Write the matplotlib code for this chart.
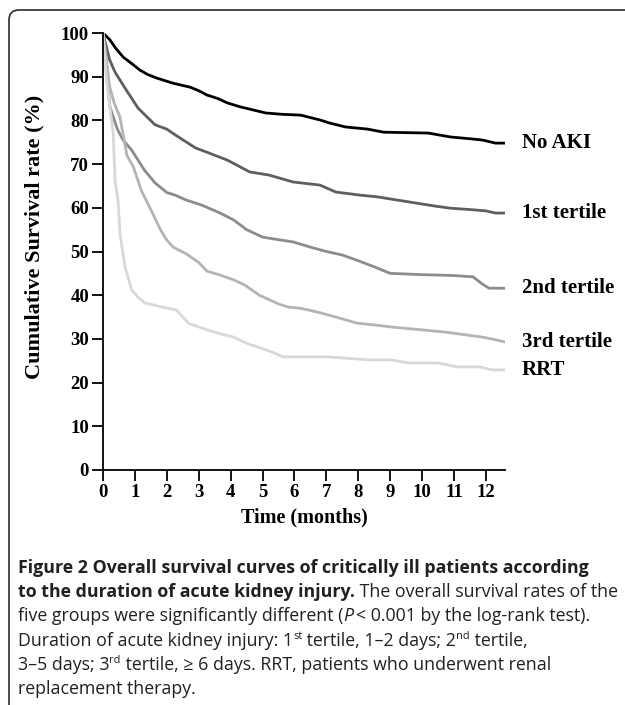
import numpy as np
import matplotlib
matplotlib.use("Agg")
import matplotlib.pyplot as plt
from matplotlib.patches import FancyBboxPatch

# Kaplan-Meier curves (time in months, survival in %)
t_noaki = [0, 0.1, 0.22, 0.4, 0.63, 0.9, 1.16, 1.4, 1.68, 2.2, 2.73, 3.0, 3.26, 3.6, 3.9,
           4.3, 4.7, 5.1, 5.6, 6.2, 6.8, 7.1, 7.6, 8.3, 8.8, 9.5, 10.2, 10.9, 11.5, 11.9,
           12.3, 12.6]
s_noaki = [100, 99.3, 98.4, 96.5, 94.5, 93, 91.5, 90.5, 89.7, 88.5, 87.6, 86.8, 85.8, 85,
           84, 83.1, 82.4, 81.7, 81.4, 81.2, 80.1, 79.4, 78.5, 78, 77.3, 77.2, 77.1, 76.2,
           75.8, 75.5, 74.8, 74.8]

t_ter1 = [0, 0.1, 0.2, 0.38, 0.69, 1.1, 1.63, 2.0, 2.26, 2.9, 3.3, 3.9, 4.6, 5.2, 5.96,
          6.8, 7.3, 8.06, 8.6, 9.2, 9.8, 10.4, 10.9, 11.5, 12.0, 12.3, 12.6]
s_ter1 = [100, 97, 94, 91, 87.4, 82.8, 79, 78, 76.7, 73.7, 72.6, 70.9, 68.2, 67.5, 65.9,
          65.2, 63.6, 62.9, 62.5, 61.8, 61.1, 60.4, 59.9, 59.6, 59.3, 58.8, 58.8]

t_ter2 = [0, 0.08, 0.22, 0.45, 0.63, 0.9, 1.3, 1.63, 2.0, 2.26, 2.6, 3.1, 3.67, 4.1, 4.5,
          5.0, 5.5, 5.96, 6.5, 7.0, 7.5, 7.96, 8.5, 9.0, 10.0, 11.0, 11.6, 11.9, 12.1, 12.6]
s_ter2 = [100, 93, 83, 78, 75.5, 73.2, 68.6, 65.7, 63.5, 62.9, 61.8, 60.6, 58.8, 57.2, 55,
          53.3, 52.7, 52.2, 51, 50, 49.2, 48, 46.5, 45, 44.7, 44.5, 44.2, 42.5, 41.6, 41.6]

t_ter3 = [0, 0.1, 0.2, 0.35, 0.53, 0.75, 0.95, 1.2, 1.47, 1.8, 2.0, 2.2, 2.6, 3.0, 3.26,
          3.67, 4.1, 4.45, 4.9, 5.5, 5.8, 6.2, 6.8, 7.3, 7.96, 8.5, 9.2, 10.1, 10.8, 11.5,
          11.9, 12.3, 12.6]
s_ter3 = [100, 94.5, 88, 84, 80.8, 72, 69.4, 64, 60, 55, 52.6, 51, 49.5, 47.5, 45.5, 44.6,
          43.5, 42.3, 40, 38, 37.3, 37, 36, 35, 33.6, 33.2, 32.6, 32, 31.5, 30.8, 30.4,
          29.8, 29.3]

t_rrt = [0, 0.05, 0.1, 0.2, 0.32, 0.38, 0.47, 0.53, 0.69, 0.9, 1.1, 1.32, 1.85, 2.3, 2.5,
         2.7, 2.9, 3.3, 3.6, 4.1, 4.5, 4.9, 5.3, 5.64, 6.2, 7.0, 7.6, 8.3, 9.0, 9.6, 10.5,
         11.1, 11.8, 12.2, 12.6]
s_rrt = [100, 95, 90, 84, 77, 66, 61.8, 54.2, 46.5, 41.2, 39.5, 38.2, 37.3, 36.6, 35, 33.5,
         33, 32, 31.3, 30.4, 29, 28, 27, 25.9, 25.9, 25.9, 25.6, 25.2, 25.2, 24.5, 24.5,
         23.6, 23.6, 22.9, 22.9]

group_names = ["No AKI", "1st tertile", "2nd tertile", "3rd tertile", "RRT"]
xticks = list(range(0, 13))
yticks = list(range(0, 101, 10))

curves = [(t_noaki, s_noaki), (t_ter1, s_ter1), (t_ter2, s_ter2),
          (t_ter3, s_ter3), (t_rrt, s_rrt)]
colors = ["#000000", "#5e5e5e", "#8c8c8c", "#b4b4b4", "#d8d8d8"]

W, H = 625, 705
fig = plt.figure(figsize=(W / 100, H / 100), dpi=100)

# rounded frame around the figure (right and bottom edges are cut off)
frame = FancyBboxPatch((0.09, -0.3), 7.0, 7.05 - 0.10 + 0.3,
                       boxstyle="round,pad=0,rounding_size=0.1",
                       transform=fig.dpi_scale_trans, fill=False,
                       edgecolor="#3a3a3a", linewidth=1.3)
fig.add_artist(frame)

ax = fig.add_axes([103 / W, 1 - 470 / H, (505 - 103) / W, (470 - 33) / H])
for (t, s), c in zip(curves, colors):
    ax.plot(t, s, color=c, lw=2.0, solid_joinstyle="miter")

serif = "Liberation Serif"
for name, (t, s) in zip(group_names, curves):
    ax.text(13.12, s[-1], name, fontfamily=serif, fontweight="bold", fontsize=15,
            va="center", ha="left", clip_on=False)

ax.set_xlim(0, 12.6)
ax.set_ylim(0, 100)
ax.spines["top"].set_visible(False)
ax.spines["right"].set_visible(False)
for sp in ["left", "bottom"]:
    ax.spines[sp].set_linewidth(1.3)
ax.set_xticks(xticks)
ax.set_yticks(yticks)
ax.tick_params(direction="out", length=8, width=1.3, labelsize=13.5, pad=2)
for lab in ax.get_xticklabels() + ax.get_yticklabels():
    lab.set_fontfamily(serif)
    lab.set_fontweight("bold")
ax.set_xlabel("Time (months)", fontfamily=serif, fontweight="bold", fontsize=14.5,
              labelpad=5)
ax.set_ylabel("Cumulative Survival rate (%)", fontfamily=serif, fontweight="bold",
              fontsize=16)
ax.yaxis.set_label_coords(-0.145, 0.533)

# caption, written piece by piece so bold / italic / superscript can be mixed
cap_font = "Open Sans"
cap_size = 12.8
cap_col = "#231f20"
renderer = fig.canvas.get_renderer()


def caption_line(ypix, pieces):
    x = 18 / W
    y = 1 - ypix / H
    for txt, opts in pieces:
        size = cap_size * (0.62 if opts.get("sup") else 1)
        dy = 7 / H if opts.get("sup") else 0
        t = fig.text(x, y + dy, txt, fontfamily=cap_font, fontsize=size,
                     fontweight=opts.get("weight", "normal"),
                     fontstyle=opts.get("style", "normal"),
                     color=cap_col, va="baseline", ha="left")
        x += t.get_window_extent(renderer).width / W


B = {"weight": "bold"}
N = {}
S = {"sup": True}
caption_line(573, [("Figure 2 Overall survival curves of critically ill patients according", B)])
caption_line(597, [("to the duration of acute kidney injury.", B),
                   (" The overall survival rates of the", N)])
caption_line(621, [("five groups were significantly different (", N), ("P", {"style": "italic"}),
                   ("\u2009< 0.001 by the log-rank test).", N)])
caption_line(646, [("Duration of acute kidney injury: 1", N), ("st", S),
                   (" tertile, 1\u20132 days; 2", N), ("nd", S), (" tertile,", N)])
caption_line(670, [("3\u20135 days; 3", N), ("rd", S),
                   (" tertile, \u2265 6 days. RRT, patients who underwent renal", N)])
caption_line(694, [("replacement therapy.", N)])

fig.savefig("out.png", dpi=100)
